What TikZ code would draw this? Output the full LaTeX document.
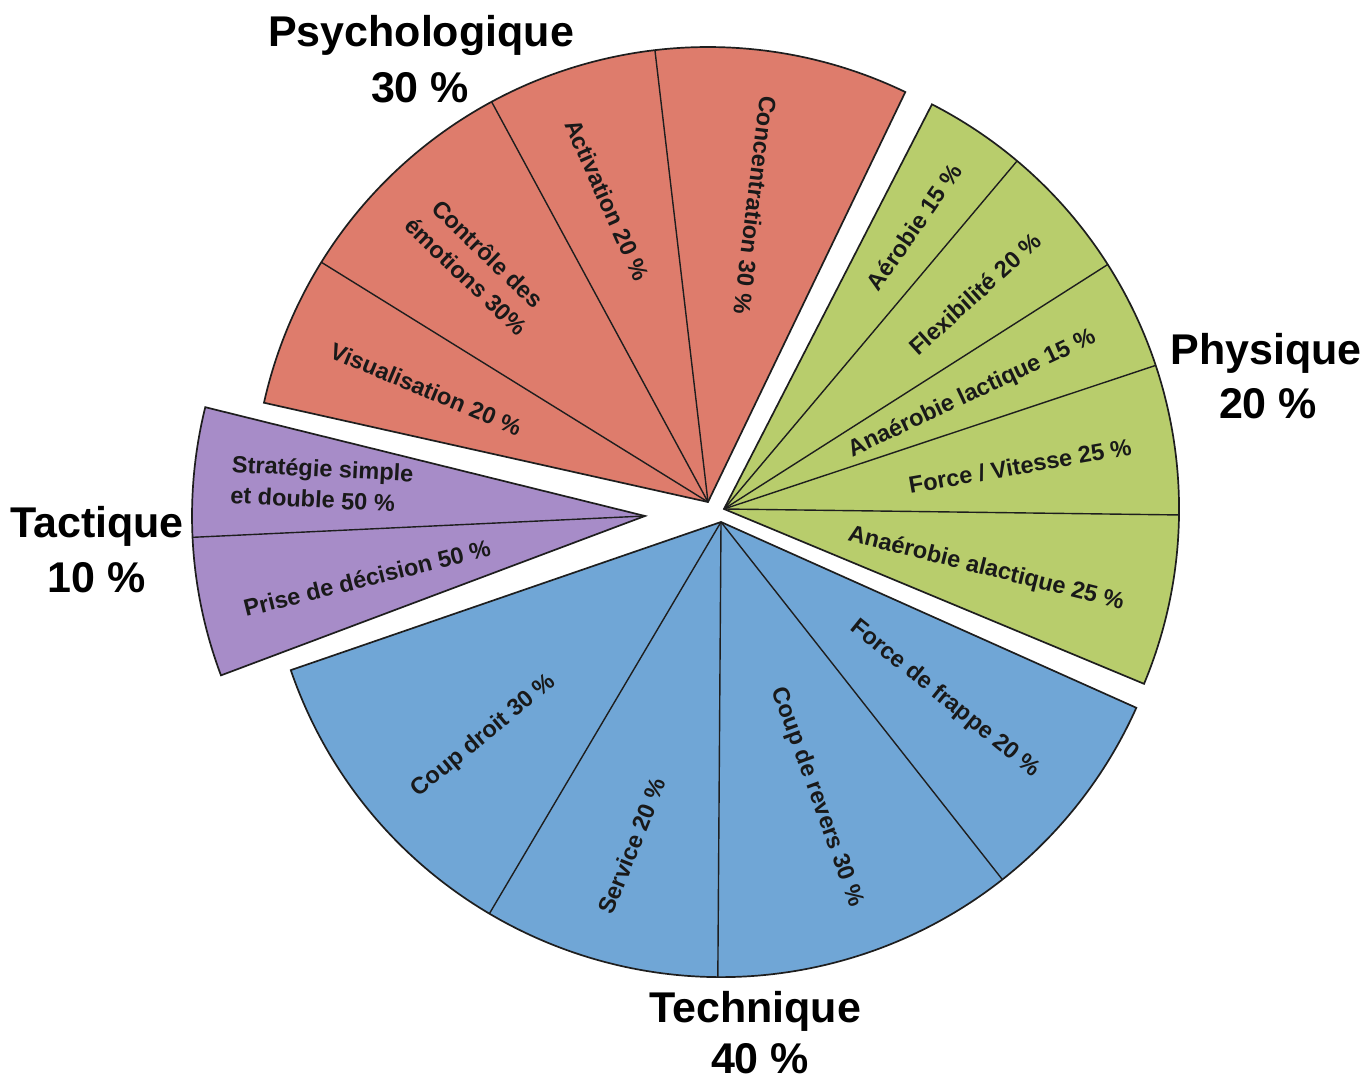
\documentclass[tikz,border=0pt]{standalone}
\usepackage{fontspec}
\setmainfont{Liberation Sans}
\definecolor{psyc}{RGB}{222,124,108}
\definecolor{phys}{RGB}{184,205,108}
\definecolor{tact}{RGB}{167,140,200}
\definecolor{tech}{RGB}{112,166,214}
\definecolor{edge}{RGB}{30,30,30}
\begin{document}
\begin{tikzpicture}[x=1pt,y=1pt,
  title/.style={font=\fontsize{43}{50}\selectfont\bfseries, inner sep=0pt},
  lab/.style={font=\fontsize{23.5}{31}\selectfont\bfseries, inner sep=0pt, text=black!90},
  border/.style={draw=edge, line width=1.7pt, line join=miter},
  divider/.style={draw=edge, line width=1.4pt}]
\useasboundingbox[fill=white] (0,0) rectangle (1365,1080);

% Psychologique (red)
\coordinate (Rc) at (708,578);
\filldraw[fill=psyc, border] (Rc) -- ++(64.3:455) arc[start angle=64.3, end angle=167.4, radius=455] -- cycle;
\foreach \a in {96.7,118.4,148.2} \draw[divider] (Rc) -- ++(\a:455);

% Physique (green)
\coordinate (Gc) at (724,571);
\filldraw[fill=phys, border] (Gc) -- ++(-22.6:455) arc[start angle=-22.6, end angle=62.8, radius=455] -- cycle;
\foreach \a in {-0.75,18.4,32.5,49.9} \draw[divider] (Gc) -- ++(\a:455);

% Tactique (purple)
\coordinate (Pc) at (645,564);
\filldraw[fill=tact, border] (Pc) -- ++(166.1:453) arc[start angle=166.1, end angle=200.6, radius=453] -- cycle;
\draw[divider] (Pc) -- ++(182.7:453);

% Technique (blue)
\coordinate (Bc) at (721,558);
\filldraw[fill=tech, border] (Bc) -- ++(199.0:455) arc[start angle=199.0, end angle=335.9, radius=455] -- cycle;
\foreach \a in {239.4,269.6,308.2} \draw[divider] (Bc) -- ++(\a:455);

% Psychologique labels
\node[lab, rotate=-22.7] (vis) at (426,691) {Visualisation 20 \%};
\node[lab, rotate=-44, align=center] (ctrl) at (477,815) {Contrôle des\\émotions 30\%};
\node[lab, rotate=-66] (act) at (607,880) {Activation 20 \%};
\node[lab, rotate=-97] (conc) at (755,875) {Concentration 30 \%};

% Physique labels
\node[lab, rotate=55.3] (aero) at (914,853) {Aérobie 15 \%};
\node[lab, rotate=42.1] (flex) at (975,786) {Flexibilité 20 \%};
\node[lab, rotate=25.2] (alac) at (972,686) {Anaérobie lactique 15 \%};
\node[lab, rotate=10] (forv) at (1020,614) {Force / Vitesse 25 \%};
\node[lab, rotate=-14] (aalac) at (986,511) {Anaérobie alactique 25 \%};

% Tactique labels
\node[lab, rotate=-3, align=left] (strat) at (322,596) {Stratégie simple\\et double 50 \%};
\node[lab, rotate=14] (prise) at (367,502) {Prise de décision 50 \%};

% Technique labels
\node[lab, rotate=39.5] (cd) at (484,344) {Coup droit 30 \%};
\node[lab, rotate=68] (serv) at (632,234) {Service 20 \%};
\node[lab, rotate=-70] (crev) at (817,283) {Coup de revers 30 \%};
\node[lab, rotate=-39] (ffr) at (945,381) {Force de frappe 20 \%};

% Titles
\node[title] (tpsy) at (421,1045) {Psychologique};
\node[title] (ppsy) at (420,992) {30 \%};
\node[title] (tphy) at (1266,727) {Physique};
\node[title] (pphy) at (1268,676) {20 \%};
\node[title] (ttac) at (97,554) {Tactique};
\node[title] (ptac) at (97,502) {10 \%};
\node[title] (ttec) at (755,69) {Technique};
\node[title] (ptec) at (760,21) {40 \%};
\end{tikzpicture}
\end{document}
